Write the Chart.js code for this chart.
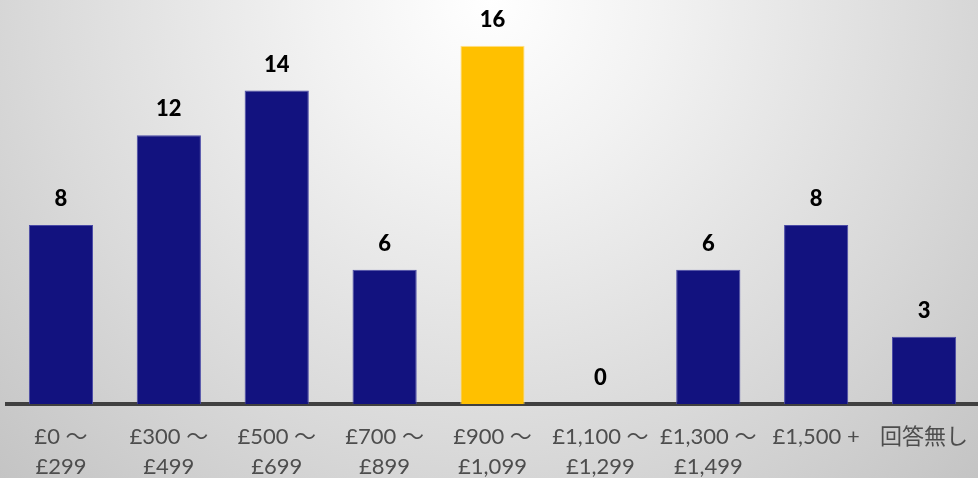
<!DOCTYPE html>
<html>
<head>
<meta charset="utf-8">
<script src="https://cdn.jsdelivr.net/npm/chart.js@4.4.1/dist/chart.umd.min.js"></script>
<style>
html,body{margin:0;padding:0;overflow:hidden;width:978px;height:478px;}
body{background: radial-gradient(ellipse farthest-corner at 50% 0%, #ffffff 0%, #f2f2f2 25%, #dadada 65%, #c4c4c4 100%);}
canvas{display:block;}
</style>
</head>
<body>
<canvas id="c" width="978" height="478"></canvas>
<script>
const categories = [["£0 ～","£299"],["£300 ～","£499"],["£500 ～","£699"],["£700 ～","£899"],["£900 ～","£1,099"],["£1,100 ～","£1,299"],["£1,300 ～","£1,499"],["£1,500 +"],["回答無し"]];
const values = [8,12,14,6,16,0,6,8,3];
const highlightIndex = 4;
const yMax = 18;

const navy = '#12127f', navyEdge = '#4a4aa6';
const gold = '#ffc000', goldEdge = '#ffe08a';

const valueLabels = {
  id: 'valueLabels',
  afterDatasetsDraw(chart) {
    const ctx = chart.ctx;
    const meta = chart.getDatasetMeta(0);
    ctx.save();
    ctx.font = '900 22px Lato, "Noto Sans", sans-serif';
    ctx.fillStyle = '#000000';
    ctx.textAlign = 'center';
    ctx.textBaseline = 'middle';
    meta.data.forEach((bar, i) => {
      ctx.fillText(String(values[i]), bar.x, bar.y - 26);
    });
    ctx.restore();
  }
};

new Chart(document.getElementById('c'), {
  type: 'bar',
  data: {
    labels: categories,
    datasets: [{
      data: values,
      backgroundColor: values.map((v,i) => i === highlightIndex ? gold : navy),
      borderColor: values.map((v,i) => i === highlightIndex ? goldEdge : navyEdge),
      borderWidth: 1,
      categoryPercentage: 1,
      barPercentage: 0.595
    }]
  },
  options: {
    responsive: false,
    animation: false,
    layout: { padding: { left: 7, right: 0, top: 1, bottom: 0 } },
    plugins: { legend: { display: false }, tooltip: { enabled: false } },
    scales: {
      y: { display: false, min: 0, max: yMax },
      x: {
        z: 1,
        grid: { display: false, drawTicks: false },
        border: { display: true, color: '#404040', width: 4 },
        ticks: {
          autoSkip: false, maxRotation: 0, minRotation: 0,
          padding: 18,
          color: '#4d4d4d',
          font: { family: 'Lato, "Noto Sans CJK JP", sans-serif', size: 22, lineHeight: 1.36 }
        },
        afterFit(scale) { scale.height = 74; scale.paddingLeft = 0; scale.paddingRight = 0; }
      }
    }
  },
  plugins: [valueLabels]
});
</script>
</body>
</html>
